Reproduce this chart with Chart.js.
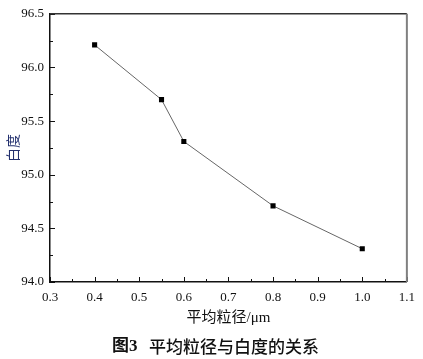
<!DOCTYPE html>
<html>
<head>
<meta charset="utf-8">
<script src="https://cdn.jsdelivr.net/npm/chart.js@4/dist/chart.umd.min.js"></script>
<style>
  html, body { margin: 0; padding: 0; background: #fff; }
  #wrap { width: 423px; height: 359px; position: relative; }
</style>
</head>
<body>
<div id="wrap"><canvas id="grafico"></canvas></div>
<script>
// Dados
const particleSize = [0.4, 0.55, 0.6, 0.8, 1.0];
const whiteness = [96.21, 95.7, 95.31, 94.71, 94.31];
const xTicks = [0.3, 0.4, 0.5, 0.6, 0.7, 0.8, 0.9, 1.0, 1.1];
const yTicks = [94.0, 94.5, 95.0, 95.5, 96.0, 96.5];
const xTitle = '平均粒径/μm';
const yTitle = '白度';
const caption = '平均粒径与白度的关系';
const captionNum = '图3';

const SERIF = '"Liberation Serif", "Noto Sans CJK SC", serif';
const CJK = '"Noto Sans CJK SC", "Liberation Serif", sans-serif';

// Ticks internos + moldura + legenda da figura
const moldura = {
  id: 'moldura',
  afterDraw(chart) {
    const { ctx, chartArea: a, scales: { x, y } } = chart;
    ctx.save();
    ctx.strokeStyle = '#111';
    ctx.lineWidth = 1;
    xTicks.forEach((v, i) => {
      const px = Math.round(x.getPixelForValue(v)) + 0.5;
      ctx.beginPath(); ctx.moveTo(px, a.bottom); ctx.lineTo(px, a.bottom - 5); ctx.stroke();
      if (i < xTicks.length - 1) {
        const pm = Math.round(x.getPixelForValue((v + xTicks[i + 1]) / 2)) + 0.5;
        ctx.beginPath(); ctx.moveTo(pm, a.bottom); ctx.lineTo(pm, a.bottom - 3); ctx.stroke();
      }
    });
    yTicks.forEach((v, i) => {
      const py = Math.round(y.getPixelForValue(v)) + 0.5;
      ctx.beginPath(); ctx.moveTo(a.left, py); ctx.lineTo(a.left + 5, py); ctx.stroke();
      if (i < yTicks.length - 1) {
        const pm = Math.round(y.getPixelForValue((v + yTicks[i + 1]) / 2)) + 0.5;
        ctx.beginPath(); ctx.moveTo(a.left, pm); ctx.lineTo(a.left + 3, pm); ctx.stroke();
      }
    });
    // topo e direita
    ctx.strokeStyle = '#333'; ctx.lineWidth = 1.5;
    ctx.beginPath(); ctx.moveTo(a.left, a.top); ctx.lineTo(a.right, a.top); ctx.stroke();
    ctx.strokeStyle = '#808080'; ctx.lineWidth = 2;
    ctx.beginPath(); ctx.moveTo(a.right, a.top); ctx.lineTo(a.right, a.bottom); ctx.stroke();
    // legenda da figura
    ctx.fillStyle = '#111';
    ctx.textBaseline = 'middle';
    ctx.textAlign = 'left';
    ctx.font = 'bold 17px ' + SERIF;
    ctx.fillText(captionNum, 112, 347);
    ctx.font = '500 17px ' + CJK;
    ctx.fillText(caption, 149, 347);
    ctx.restore();
  }
};

new Chart(document.getElementById('grafico'), {
  type: 'line',
  data: {
    datasets: [{
      data: particleSize.map((v, i) => ({ x: v, y: whiteness[i] })),
      borderColor: '#666',
      borderWidth: 1,
      tension: 0,
      pointStyle: 'rect',
      pointRadius: 3.6,
      pointBackgroundColor: '#000',
      pointBorderColor: '#000',
      pointBorderWidth: 0
    }]
  },
  options: {
    responsive: true,
    maintainAspectRatio: false,
    animation: false,
    devicePixelRatio: 1,
    layout: { padding: { left: 0, top: 12, right: 11, bottom: 29 } },
    plugins: { legend: { display: false }, tooltip: { enabled: false } },
    scales: {
      x: {
        type: 'linear', min: 0.3, max: 1.1,
        afterBuildTicks: s => { s.ticks = xTicks.map(v => ({ value: v })); },
        afterFit: s => { s.height = 48; },
        grid: { display: false, drawTicks: false },
        border: { display: true, color: '#111', width: 1.5 },
        ticks: { padding: 8, color: '#111', font: { family: SERIF, size: 13 }, callback: v => v.toFixed(1), maxRotation: 0 },
        title: { display: true, text: xTitle, color: '#111', font: { family: SERIF, size: 15 }, padding: { top: 0, bottom: 3 } }
      },
      y: {
        type: 'linear', min: 94, max: 96.5,
        afterBuildTicks: s => { s.ticks = yTicks.map(v => ({ value: v })); },
        afterFit: s => { s.width = 50; },
        grid: { display: false, drawTicks: false },
        border: { display: true, color: '#111', width: 1.5 },
        ticks: { padding: 6, color: '#111', font: { family: SERIF, size: 13 }, callback: v => v.toFixed(1) },
        title: { display: true, text: yTitle, color: '#23306e', font: { family: CJK, size: 14 }, padding: { top: 4, bottom: 0 } }
      }
    }
  },
  plugins: [moldura]
});
</script>
</body>
</html>
